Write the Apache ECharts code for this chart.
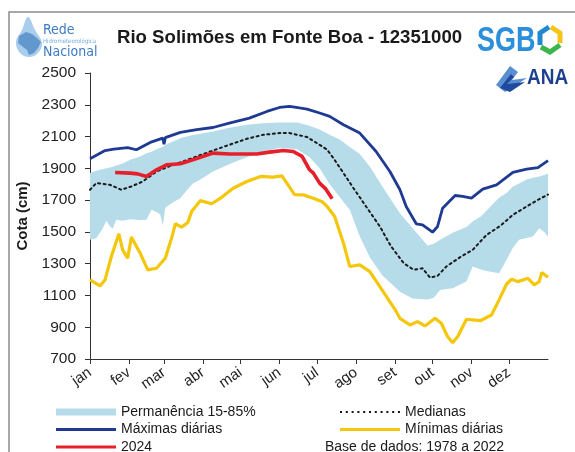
<!DOCTYPE html>
<html>
<head>
<meta charset="utf-8">
<title>Rio Solimões em Fonte Boa - 12351000</title>
<script src="https://cdn.jsdelivr.net/npm/echarts@6/dist/echarts.min.js"></script>
<style>
  html, body { margin: 0; padding: 0; background: #fff; }
  #chart { width: 575px; height: 452px; }
</style>
</head>
<body>
<div id="chart"></div>
<script>
// Month labels and the day of year on which each month starts
const months = ['jan', 'fev', 'mar', 'abr', 'mai', 'jun', 'jul', 'ago', 'set', 'out', 'nov', 'dez'];
const monthStarts = [0, 31, 59, 90, 120, 151, 181, 212, 243, 273, 304, 334];

// Permanence band (15% and 85% exceedance levels), cm, by day of year
const bandDays = [0, 5, 10, 13, 16, 18, 21, 26, 32, 40, 45, 49, 53, 56, 58, 60, 62, 68, 72, 77, 82, 88, 98, 111, 125, 138, 151, 165, 175, 183, 191, 199, 207, 215, 223, 233, 247, 257, 269, 274, 279, 289, 300, 305, 312, 318, 326, 332, 337, 342, 348, 353, 358, 362, 365];
const bandHigh = [1870, 1885, 1895, 1900, 1905, 1910, 1918, 1930, 1954, 1975, 1995, 2005, 2020, 2030, 2036, 2045, 2055, 2075, 2090, 2100, 2110, 2118, 2132, 2155, 2174, 2183, 2189, 2189, 2168, 2145, 2112, 2082, 2035, 1990, 1912, 1785, 1618, 1525, 1415, 1425, 1450, 1495, 1530, 1565, 1600, 1650, 1715, 1745, 1786, 1805, 1830, 1840, 1849, 1858, 1866];
const bandLow = [1450, 1460, 1520, 1570, 1534, 1520, 1576, 1570, 1580, 1575, 1576, 1639, 1625, 1610, 1540, 1650, 1665, 1695, 1712, 1760, 1805, 1830, 1880, 1925, 1970, 2005, 2030, 2020, 1970, 1900, 1800, 1720, 1640, 1471, 1340, 1225, 1124, 1080, 1075, 1085, 1135, 1145, 1187, 1282, 1261, 1250, 1240, 1324, 1400, 1450, 1462, 1471, 1523, 1500, 1471];

// Daily medians, [day, cm]
const medians = [[0, 1765], [5, 1807], [16, 1796], [25, 1765], [33, 1786], [42, 1817], [53, 1880], [63, 1912], [74, 1943], [85, 1975], [98, 2012], [111, 2048], [125, 2086], [138, 2111], [151, 2122], [159, 2122], [173, 2097], [183, 2048], [189, 2017], [194, 1964], [202, 1870], [210, 1775], [220, 1660], [231, 1534], [240, 1408], [250, 1303], [258, 1261], [265, 1271], [271, 1212], [277, 1223], [284, 1282], [295, 1341], [305, 1387], [316, 1481], [327, 1538], [337, 1607], [348, 1660], [357, 1702], [365, 1735]];

// Daily maxima, [day, cm]
const maxDaily = [[0, 1960], [12, 2012], [19, 2021], [30, 2031], [37, 2017], [48, 2063], [58, 2090], [59, 2052], [60, 2093], [72, 2126], [85, 2143], [98, 2157], [111, 2185], [127, 2216], [141, 2258], [151, 2283], [159, 2290], [167, 2280], [173, 2273], [183, 2248], [191, 2227], [202, 2174], [215, 2122], [228, 2006], [239, 1880], [247, 1765], [252, 1660], [260, 1551], [265, 1544], [273, 1498], [277, 1534], [281, 1649], [291, 1729], [297, 1723], [304, 1712], [313, 1769], [324, 1796], [337, 1874], [348, 1895], [357, 1905], [365, 1949]];

// Daily minima, [day, cm]
const minDaily = [[0, 1198], [8, 1160], [12, 1198], [17, 1345], [23, 1488], [26, 1387], [30, 1334], [33, 1467], [40, 1366], [46, 1261], [53, 1271], [60, 1334], [65, 1460], [68, 1551], [73, 1530], [78, 1559], [81, 1628], [88, 1697], [97, 1677], [104, 1712], [114, 1775], [125, 1817], [136, 1849], [146, 1845], [153, 1853], [163, 1735], [170, 1733], [178, 1712], [185, 1690], [189, 1660], [195, 1597], [202, 1429], [207, 1282], [215, 1292], [223, 1250], [231, 1156], [243, 1013], [247, 956], [255, 914], [261, 935], [267, 908], [275, 956], [280, 925], [285, 840], [289, 803], [293, 840], [300, 950], [311, 941], [320, 977], [326, 1072], [332, 1172], [336, 1202], [341, 1187], [349, 1208], [354, 1166], [358, 1187], [360, 1244], [365, 1215]];

// Current year, [day, cm]
const year2024 = [[20, 1874], [32, 1870], [38, 1865], [45, 1849], [53, 1891], [61, 1922], [72, 1929], [82, 1954], [98, 1996], [111, 1990], [133, 1990], [143, 2002], [154, 2012], [162, 2006], [169, 1975], [175, 1891], [178, 1870], [183, 1807], [188, 1769], [193, 1708]];

// Y axis scale
const yMin = 700, yMax = 2500, yStep = 200;

const FONT = '"Liberation Sans", Arial, Helvetica, sans-serif';
const NARROW = '"Liberation Sans Narrow", "DejaVu Sans Condensed", "Liberation Sans", sans-serif';
const C_BAND = '#b6dcea', C_MAX = '#1f3a93', C_MIN = '#f4c70c', C_2024 = '#e5202b', C_MED = '#1a1a1a';

// Legend glyphs: a plain bar for the solid lines, a row of square dots for the medians
const ICON_LINE = 'path://M0,0L60,0L60,3L0,3Z';
let dots = '';
for (let i = 0; i < 11; i++) {
  const x = i * 5.6;
  dots += 'M' + x + ',0L' + (x + 2) + ',0L' + (x + 2) + ',2L' + x + ',2Z';
}
const ICON_DOTS = 'path://' + dots;

const chart = echarts.init(document.getElementById('chart'), null, { renderer: 'canvas' });

const monthOf = {};
monthStarts.forEach((d, i) => { monthOf[d] = months[i]; });

// Band polygon: along the upper edge, then back along the lower edge
function renderBand(params, api) {
  const pts = [];
  for (let i = 0; i < bandDays.length; i++) pts.push(api.coord([bandDays[i], bandHigh[i]]));
  for (let i = bandDays.length - 1; i >= 0; i--) pts.push(api.coord([bandDays[i], bandLow[i]]));
  return { type: 'polygon', shape: { points: pts }, style: { fill: C_BAND } };
}

const legendText = { fontSize: 14, color: '#1a1a1a', fontFamily: FONT, lineHeight: 16 };

chart.setOption({
  backgroundColor: '#ffffff',
  animation: false,
  textStyle: { fontFamily: FONT },
  title: {
    text: 'Rio Solimões em Fonte Boa - 12351000',
    left: 117, top: 28, padding: 0,
    textStyle: { fontFamily: FONT, fontSize: 18.6, fontWeight: 'bold', color: '#1a1a1a' }
  },
  grid: { left: 90, top: 73, right: 27, bottom: 93, containLabel: false },
  xAxis: {
    type: 'value', min: 0, max: 365,
    axisLine: { show: true, lineStyle: { color: '#333', width: 1 } },
    axisTick: { show: true, inside: false, length: 5, customValues: monthStarts, lineStyle: { color: '#333' } },
    axisLabel: {
      customValues: monthStarts, rotate: 35, margin: 12,
      fontSize: 15, color: '#222', fontFamily: FONT,
      formatter: v => monthOf[v] || ''
    },
    splitLine: { show: false }
  },
  yAxis: {
    type: 'value', min: yMin, max: yMax, interval: yStep,
    name: 'Cota (cm)', nameLocation: 'middle', nameGap: 53,
    nameTextStyle: { fontFamily: FONT, fontSize: 15, fontWeight: 'bold', color: '#1a1a1a' },
    axisLine: { show: true, lineStyle: { color: '#333', width: 1 } },
    axisTick: { show: true, inside: false, length: 5, lineStyle: { color: '#333' } },
    axisLabel: { fontSize: 15.5, color: '#222', margin: 14, fontFamily: FONT, formatter: v => String(v) },
    splitLine: { show: false }
  },
  legend: [
    {
      orient: 'vertical', left: 56, top: 404, height: 80, itemWidth: 60, itemHeight: 7, itemGap: 1.5,
      padding: 0, textStyle: legendText,
      data: [
        { name: 'Permanência 15-85%', icon: 'rect', itemStyle: { color: C_BAND } },
        { name: 'Máximas diárias', icon: ICON_LINE, itemStyle: { color: C_MAX } },
        { name: '2024', icon: ICON_LINE, itemStyle: { color: C_2024 } }
      ]
    },
    {
      orient: 'vertical', left: 340, top: 404, height: 80, itemWidth: 60, itemHeight: 7, itemGap: 1.5,
      padding: 0, textStyle: legendText,
      data: [
        { name: 'Medianas', icon: ICON_DOTS, itemStyle: { color: C_MED } },
        { name: 'Mínimas diárias', icon: ICON_LINE, itemStyle: { color: C_MIN } }
      ]
    }
  ],
  series: [
    {
      name: 'Permanência 15-85%', type: 'custom', renderItem: renderBand,
      data: [[bandDays[0], bandLow[0]]], itemStyle: { color: C_BAND }, clip: true, silent: true, z: 1
    },
    {
      name: 'Medianas', type: 'line', symbol: 'none', data: medians, z: 3,
      itemStyle: { color: C_MED },
      lineStyle: { color: C_MED, width: 2, type: [2, 3.5], cap: 'round' }
    },
    {
      name: 'Máximas diárias', type: 'line', symbol: 'none', data: maxDaily, z: 3,
      itemStyle: { color: C_MAX },
      lineStyle: { color: C_MAX, width: 2.8 }
    },
    {
      name: 'Mínimas diárias', type: 'line', symbol: 'none', data: minDaily, z: 3,
      itemStyle: { color: C_MIN },
      lineStyle: { color: C_MIN, width: 3.2 }
    },
    {
      name: '2024', type: 'line', symbol: 'none', data: year2024, z: 4,
      itemStyle: { color: C_2024 },
      lineStyle: { color: C_2024, width: 3.6 }
    }
  ],
  graphic: [
    // frame
    { type: 'rect', silent: true, z: -10, shape: { x: 9, y: 12, width: 620, height: 520 },
      style: { fill: 'none', stroke: '#8c8c8c', lineWidth: 1.5 } },
    // Rede Hidrometeorológica Nacional mark
    { type: 'polygon', silent: true,
      shape: { points: [[28, 17], [22, 30], [16, 42], [20, 53], [29, 57], [38, 53], [42, 43], [35, 30]], smooth: 0.4 },
      style: { fill: '#a9cdec' } },
    { type: 'polygon', silent: true,
      shape: { points: [[19, 36], [26, 32], [32, 34], [37, 38], [41, 42], [38, 48], [34, 53], [29, 55], [27, 50], [23, 47], [18, 43]] },
      style: { fill: '#4c86c6', opacity: 0.75 } },
    { type: 'text', silent: true, x: 43, y: 23,
      style: { text: 'Rede', font: '14px ' + NARROW, fill: '#3d7bc3' } },
    { type: 'text', silent: true, x: 43, y: 38,
      style: { text: 'Hidrometeorológica', font: '6px ' + NARROW, fill: '#78aee0' } },
    { type: 'text', silent: true, x: 43, y: 45,
      style: { text: 'Nacional', font: '14px ' + NARROW, fill: '#3d7bc3' } },
    // SGB mark
    { type: 'text', silent: true, x: 477, y: 24, scaleY: 1.3,
      style: { text: 'SGB', font: 'bold 27px ' + FONT, fill: '#2b8fdc' } },
    { type: 'polyline', silent: true, shape: { points: [[549, 27], [540, 33], [540, 45]] },
      style: { stroke: '#1e88d0', lineWidth: 5, fill: null } },
    { type: 'polyline', silent: true, shape: { points: [[551, 27], [560, 33], [560, 43]] },
      style: { stroke: '#f5c418', lineWidth: 5, fill: null } },
    { type: 'polyline', silent: true, shape: { points: [[560, 45], [550, 52], [541, 47]] },
      style: { stroke: '#3cb54a', lineWidth: 5, fill: null } },
    // ANA mark
    { type: 'polygon', silent: true, shape: { points: [[496, 85], [510, 66], [518, 72], [512, 80], [527, 78], [505, 92]] },
      style: { fill: '#5a8fd0' } },
    { type: 'polygon', silent: true, shape: { points: [[500, 88], [511, 74], [514, 77], [507, 84], [525, 82], [510, 92]] },
      style: { fill: '#1f4aa0' } },
    { type: 'text', silent: true, x: 527, y: 67, scaleY: 1.15,
      style: { text: 'ANA', font: 'bold 19px ' + FONT, fill: '#1d3f8f' } },
    // data source note
    { type: 'text', silent: true, x: 325, y: 447,
      style: { text: 'Base de dados: 1978 a 2022', font: '14px ' + FONT, fill: '#1a1a1a', verticalAlign: 'middle' } }
  ]
});
</script>
</body>
</html>
